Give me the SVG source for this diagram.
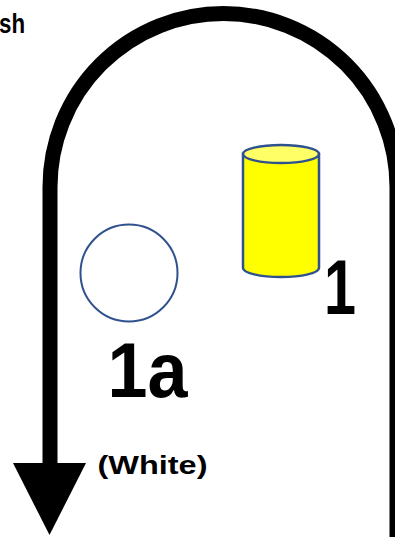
<svg xmlns="http://www.w3.org/2000/svg" width="395" height="537" viewBox="0 0 395 537">
<style>
.lbl{font-family:"Liberation Sans",Arial,sans-serif;font-weight:bold;fill:#000}
.shape{stroke:#2F528F;stroke-width:2.5}
</style>
<rect width="395" height="537" fill="#fff"/>
<g id="connectors">
<path d="M397,545 L397,187 A173.5,173.5 0 0 0 50,187 L50,470" fill="none" stroke="#000" stroke-width="15"/>
<polygon points="13,463 86,463 49.5,535" fill="#000"/>
</g>
<g id="finish-label"><text class="lbl" x="-1" y="33" font-size="27" textLength="26" lengthAdjust="spacingAndGlyphs">sh</text></g>
<g id="node-1">
<path class="shape" d="M243,154 L243,268 A38,9 0 0 0 319,268 L319,154 Z" fill="#FFFF00"/>
<ellipse class="shape" cx="281" cy="154" rx="38" ry="9" fill="#FFFF66"/>
<text class="lbl" x="340" y="314" font-size="78" text-anchor="middle" textLength="32" lengthAdjust="spacingAndGlyphs">1</text>
</g>
<g id="node-1a">
<circle cx="129" cy="273" r="48.5" fill="#fff" stroke="#2F528F" stroke-width="2"/>
<text class="lbl" x="147.5" y="397" font-size="78" text-anchor="middle" textLength="80" lengthAdjust="spacingAndGlyphs">1a</text>
</g>
<g id="white-label"><text class="lbl" x="152.5" y="474" font-size="25" text-anchor="middle" textLength="110" lengthAdjust="spacingAndGlyphs">(White)</text></g>
</svg>
